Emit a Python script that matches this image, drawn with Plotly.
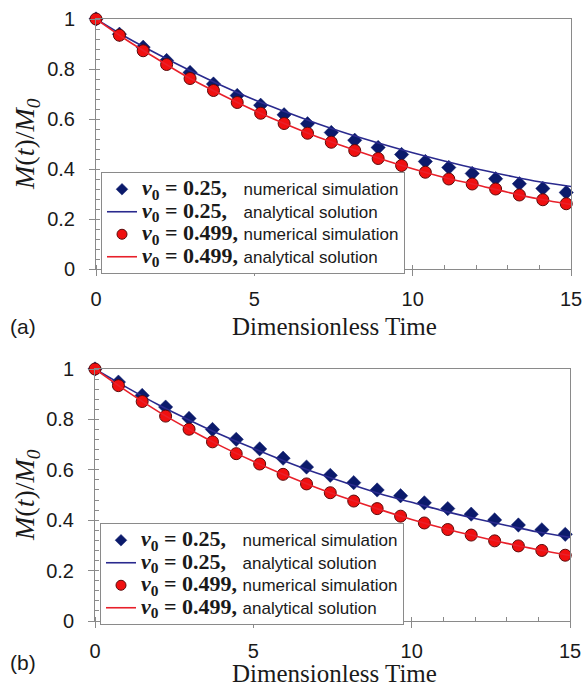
import plotly.graph_objects as go

# ---------------- data ----------------
t_sim = [0, 0.74, 1.49, 2.23, 2.97, 3.71, 4.46, 5.2, 5.94, 6.68, 7.43,
         8.17, 8.91, 9.65, 10.4, 11.14, 11.88, 12.62, 13.37, 14.11, 14.85]
t_ana = [0, 1, 2, 3, 4, 5, 6, 7, 8, 9, 10, 11, 12, 13, 14, 15]

# panel (a)
a_sim_025 = [1.0, 0.939, 0.887, 0.834, 0.786, 0.740, 0.694, 0.655, 0.617, 0.581, 0.546,
             0.515, 0.486, 0.458, 0.430, 0.406, 0.382, 0.361, 0.341, 0.322, 0.306]
a_ana_025 = [1.0, 0.924, 0.856, 0.792, 0.732, 0.677, 0.628, 0.581, 0.539, 0.501, 0.465,
             0.432, 0.401, 0.374, 0.349, 0.330]
a_sim_0499 = [1.0, 0.935, 0.873, 0.818, 0.762, 0.714, 0.666, 0.623, 0.582, 0.543, 0.507,
              0.474, 0.442, 0.414, 0.387, 0.360, 0.340, 0.320, 0.296, 0.277, 0.261]
a_ana_0499 = [1.0, 0.913, 0.835, 0.760, 0.695, 0.634, 0.579, 0.528, 0.483, 0.440, 0.401,
              0.366, 0.337, 0.307, 0.280, 0.258]

# panel (b)
b_sim_025 = [1.0, 0.948, 0.895, 0.849, 0.804, 0.760, 0.721, 0.683, 0.646, 0.611, 0.578,
             0.549, 0.520, 0.497, 0.469, 0.446, 0.424, 0.401, 0.381, 0.362, 0.344]
b_ana_025 = [1.0, 0.927, 0.858, 0.796, 0.738, 0.685, 0.634, 0.587, 0.545, 0.505, 0.471,
             0.437, 0.407, 0.379, 0.353, 0.332]
b_sim_0499 = [1.0, 0.934, 0.871, 0.813, 0.761, 0.711, 0.664, 0.623, 0.582, 0.544, 0.509,
              0.476, 0.446, 0.416, 0.389, 0.363, 0.341, 0.318, 0.298, 0.280, 0.261]
b_ana_0499 = [1.0, 0.912, 0.831, 0.759, 0.693, 0.634, 0.579, 0.529, 0.484, 0.442, 0.403,
              0.368, 0.337, 0.308, 0.283, 0.260]

x_ticks = [0, 5, 10, 15]
y_ticks = [0, 0.2, 0.4, 0.6, 0.8, 1]
y_ticklabels = ["0", "0.2", "0.4", "0.6", "0.8", "1"]

NAVY = "#0b1a6b"
BLUE_LINE = "#2a2a8e"
RED = "#f01010"
RED_LINE = "#e8202a"
FRAME = "#8a8a8a"

NB = "\u00a0"
SER = "font-family:'Liberation Serif';font-size:22px"
SAN = "font-family:'Liberation Sans';font-size:17px"


def lab(v, desc, pad):
    return (f"<span style=\"{SER}\"><b><i>\u03bd</i><sub>0</sub> = {v},{NB*pad}</b></span>"
            f"<span style=\"{SAN}\">{desc}</span>")


fig = go.Figure()

panels = [
    ("x", "y", "legend", a_sim_025, a_ana_025, a_sim_0499, a_ana_0499),
    ("x2", "y2", "legend2", b_sim_025, b_ana_025, b_sim_0499, b_ana_0499),
]
diamond = dict(symbol="diamond", color=NAVY, line=dict(width=0.5, color=NAVY))
circle = dict(symbol="circle", color=RED, line=dict(width=1, color="#5a0a0a"))
for xa, ya, lg, s25, an25, s499, an499 in panels:
    # data traces
    fig.add_trace(go.Scatter(x=t_sim, y=s25, mode="markers", xaxis=xa, yaxis=ya,
                             showlegend=False, cliponaxis=False,
                             marker=dict(size=11, **diamond)))
    fig.add_trace(go.Scatter(x=t_ana, y=an25, mode="lines", xaxis=xa, yaxis=ya, legend=lg,
                             name=lab("0.25", "analytical solution", 3), legendrank=2,
                             line=dict(color=BLUE_LINE, width=1.6, shape="spline")))
    fig.add_trace(go.Scatter(x=t_sim, y=s499, mode="markers", xaxis=xa, yaxis=ya,
                             showlegend=False, cliponaxis=False,
                             marker=dict(size=12, **circle)))
    fig.add_trace(go.Scatter(x=t_ana, y=an499, mode="lines", xaxis=xa, yaxis=ya, legend=lg,
                             name=lab("0.499", "analytical solution", 1), legendrank=4,
                             line=dict(color=RED_LINE, width=1.6, shape="spline")))
    # legend entries for the marker series (smaller symbols, as in the legend box)
    fig.add_trace(go.Scatter(x=[None], y=[None], mode="markers", xaxis=xa, yaxis=ya,
                             legend=lg, legendrank=1,
                             name=lab("0.25", "numerical simulation", 3),
                             marker=dict(size=9, **diamond)))
    fig.add_trace(go.Scatter(x=[None], y=[None], mode="markers", xaxis=xa, yaxis=ya,
                             legend=lg, legendrank=3,
                             name=lab("0.499", "numerical simulation", 1),
                             marker=dict(size=10, **circle)))

W, H = 583, 686


def xax(domain):
    return dict(domain=domain, range=[0, 15], tickvals=x_ticks, ticks="outside", ticklen=6,
                tickcolor=FRAME, showline=True, linecolor=FRAME, linewidth=1, mirror=True,
                showgrid=False, zeroline=False, ticklabelstandoff=6, automargin=False,
                tickfont=dict(family="Liberation Sans", size=20, color="#1a1a1a"),
                minor=dict(dtick=1, ticks="inside", ticklen=4, tickcolor=FRAME))


def yax(domain, anchor):
    return dict(domain=domain, range=[0, 1], tickvals=y_ticks, ticktext=y_ticklabels,
                anchor=anchor, ticks="outside", ticklen=6, tickcolor=FRAME, showline=True,
                linecolor=FRAME, linewidth=1, mirror=True, showgrid=False, zeroline=False,
                ticklabelstandoff=10, automargin=False,
                tickfont=dict(family="Liberation Sans", size=20, color="#1a1a1a"),
                minor=dict(dtick=0.04, ticks="inside", ticklen=4, tickcolor=FRAME))


leg_common = dict(bgcolor="white", bordercolor=FRAME, borderwidth=1,
                  font=dict(family="Liberation Sans", size=15, color="#1a1a1a"),
                  xanchor="left", yanchor="top", tracegroupgap=0, itemwidth=30,
                  itemsizing="trace", traceorder="normal")

fig.update_layout(
    width=W, height=H, margin=dict(l=0, r=0, t=0, b=0, autoexpand=False),
    paper_bgcolor="white", plot_bgcolor="white", showlegend=True,
    xaxis=dict(**xax([96 / W, 571 / W]), anchor="y"),
    yaxis=yax([1 - 269 / H, 1 - 19 / H], "x"),
    xaxis2=dict(**xax([95 / W, 570 / W]), anchor="y2"),
    yaxis2=yax([1 - 621 / H, 1 - 369 / H], "x2"),
    legend=dict(**leg_common, x=101 / W, y=1 - 172 / H),
    legend2=dict(**leg_common, x=100 / W, y=1 - 523 / H),
)

ann = []
for ytitle, ymid, ylab, yx in [(326, 144, 326, "(a)"), (673, 495, 662, "(b)")]:
    ann.append(dict(x=334 / W, y=1 - ytitle / H, xref="paper", yref="paper",
                    xanchor="center", yanchor="middle",
                    text="Dimensionless Time", showarrow=False,
                    font=dict(family="Liberation Serif", size=25, color="#1a1a1a")))
    ann.append(dict(x=26 / W, y=1 - ymid / H, xref="paper", yref="paper", textangle=-90,
                    xanchor="center", yanchor="middle",
                    text="<i>M</i>(<i>t</i>)/<i>M</i><sub><i>0</i></sub>", showarrow=False,
                    font=dict(family="Liberation Serif", size=28, color="#1a1a1a")))
    ann.append(dict(x=23 / W, y=1 - ylab / H, xref="paper", yref="paper", text=yx,
                    xanchor="center", yanchor="middle", showarrow=False,
                    font=dict(family="Liberation Sans", size=21, color="#1a1a1a")))
fig.update_layout(annotations=ann)

fig.write_html("out.html", config={"displayModeBar": False},
               post_script="document.body.style.margin='0';")
